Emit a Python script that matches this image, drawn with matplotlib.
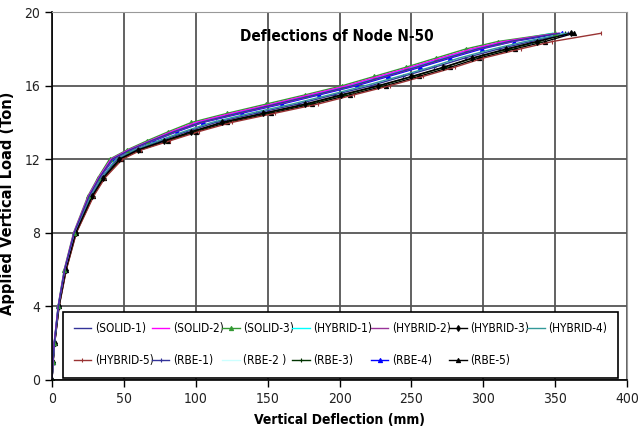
import matplotlib
matplotlib.use("Agg")
import matplotlib.pyplot as plt
from matplotlib.font_manager import FontProperties

# load steps (Ton) shared by every run, deflections (mm) per model
load = [0, 1, 2, 4, 6, 8, 10, 11, 12, 12.5, 13, 13.5, 14, 14.5, 15, 15.5,
        16, 16.5, 17, 17.5, 18, 18.4, 18.85]

solid_1 = [0, 0.6, 1.6, 4.4, 8.8, 15.4, 25.8, 33, 41.8, 54, 69, 85, 103, 129, 156, 183, 209, 231, 253, 274, 296, 318, 353]
solid_2 = [0, 0.6, 1.5, 4.3, 8.7, 15.2, 25.4, 32.5, 41, 53, 68, 83, 100, 125, 153, 179, 205, 227, 249, 270, 292, 314, 352]
solid_3 = [0, 0.6, 1.5, 4.2, 8.5, 15, 25, 32, 40, 52, 66, 81, 97, 122, 149, 176, 202, 224, 246, 267, 288, 310, 350]
hybrid_1 = [0, 0.6, 1.6, 4.3, 8.7, 15.3, 25.6, 32.8, 41.4, 53.5, 68.4, 84, 101, 127, 154, 181, 207, 229, 251, 272, 294, 316, 348]
hybrid_2 = [0, 0.7, 1.6, 4.4, 8.9, 15.5, 26, 33.3, 42.3, 54.5, 70, 86, 104, 130, 158, 184, 210, 232, 254, 275, 297, 320, 350]
hybrid_3 = [0, 0.75, 1.8, 4.8, 9.6, 16.5, 28, 35.8, 46.8, 59.5, 78, 97, 118, 147, 176, 201, 227, 250, 272, 292, 316, 337, 361]
hybrid_4 = [0, 0.7, 1.7, 4.6, 9.2, 16, 27, 34.5, 44.5, 57, 74, 91.5, 111, 138, 167, 193, 218, 241, 263, 283, 307, 329, 358]
hybrid_5 = [0, 0.8, 1.9, 5.0, 10, 17, 29, 37, 49, 62, 82, 102, 125, 155, 185, 210, 235, 258, 280, 300, 326, 348, 382]
rbe_1 = [0, 0.7, 1.7, 4.7, 9.4, 16.2, 27.4, 35, 45.4, 58, 75.6, 93.6, 114, 142, 171, 196, 222, 244, 266, 287, 311, 333, 359]
rbe_2 = [0, 0.7, 1.7, 4.6, 9.3, 16.1, 27.2, 34.8, 45, 57.5, 75, 92.5, 112, 140, 169, 195, 220, 243, 265, 285, 309, 331, 356]
rbe_3 = [0, 0.76, 1.8, 4.8, 9.7, 16.6, 28.2, 36, 47.2, 60, 79, 98, 119, 148, 178, 203, 228, 251, 273, 293, 318, 339, 357]
rbe_4 = [0, 0.7, 1.6, 4.4, 9, 15.6, 26.2, 33.5, 42.7, 55, 71, 87, 105, 132, 160, 186, 212, 234, 256, 277, 299, 321, 355]
rbe_5 = [0, 0.78, 1.9, 4.9, 9.9, 16.8, 28.6, 36.5, 48.1, 61, 80.4, 100, 122, 152, 181, 207, 232, 255, 277, 297, 322, 343, 363]

labels = ["(SOLID-1)", "(SOLID-2)", "(SOLID-3)", "(HYBRID-1)", "(HYBRID-2)",
          "(HYBRID-3)", "(HYBRID-4)", "(HYBRID-5)", "(RBE-1)", "(RBE-2 )",
          "(RBE-3)", "(RBE-4)", "(RBE-5)"]
series = [solid_1, solid_2, solid_3, hybrid_1, hybrid_2, hybrid_3, hybrid_4,
          hybrid_5, rbe_1, rbe_2, rbe_3, rbe_4, rbe_5]
colors = ["#333399", "#FF00FF", "#339933", "#00FFFF", "#993399", "#000000",
          "#339999", "#993333", "#333399", "#CCFFFF", "#003300", "#0000FF",
          "#000000"]
markers = [None, None, "^", None, None, "d", None, "|", "+", None, "+", "^", "^"]


def narrow(size, weight="normal"):
    return FontProperties(family="DejaVu Sans", stretch="condensed", size=size, weight=weight)


fig = plt.figure(figsize=(6.38, 4.48), dpi=100)
ax = fig.add_axes([0.0815, 0.152, 0.9015, 0.821])

handles = []
for i in reversed(range(len(series))):
    ln, = ax.plot(series[i], load, color=colors[i], lw=1.0, marker=markers[i],
                  markersize=3, markeredgewidth=0.8, label=labels[i])
    handles.insert(0, ln)

ax.set_xlim(0, 400)
ax.set_ylim(0, 20)
ax.set_xticks(range(0, 401, 50))
ax.set_yticks(range(0, 21, 4))
ax.grid(True, color="#555555", lw=1.3)
ax.set_axisbelow(True)
for s in ["top", "right"]:
    ax.spines[s].set_color("#999999")
for s in ["left", "bottom"]:
    ax.spines[s].set_linewidth(1.2)
ax.tick_params(direction="out", length=5, width=1)
for lab in ax.get_xticklabels() + ax.get_yticklabels():
    lab.set_fontproperties(narrow(10))
    lab.set_color("#222222")

ax.set_xlabel("Vertical Deflection (mm)", fontproperties=narrow(10, "bold"), labelpad=5)
ax.set_ylabel("Applied Vertical Load (Ton)", fontsize=10.5, fontweight="bold",
              family="DejaVu Sans")
ax.yaxis.set_label_coords(-0.064, 0.481)
ax.text(0.496, 0.935, "Deflections of Node N-50", transform=ax.transAxes,
        ha="center", va="center", fontproperties=narrow(11, "bold"))

# legend fills column by column, reorder so it reads row by row
order = []
for j in range(7):
    order.append(j)
    if j + 7 < len(handles):
        order.append(j + 7)
leg = ax.legend([handles[k] for k in order], [labels[k] for k in order],
                ncol=7, loc="lower left", mode="expand",
                bbox_to_anchor=(0.019, 0.006, 0.965, 0.177),
                prop=narrow(8.5), handlelength=1.5, handletextpad=0.3,
                columnspacing=0.4, borderaxespad=0, labelspacing=1.6,
                borderpad=0.9, fancybox=False, edgecolor="black", framealpha=1)
leg.get_frame().set_linewidth(1.2)
leg.set_zorder(10)

fig.savefig("out.png", dpi=100)
